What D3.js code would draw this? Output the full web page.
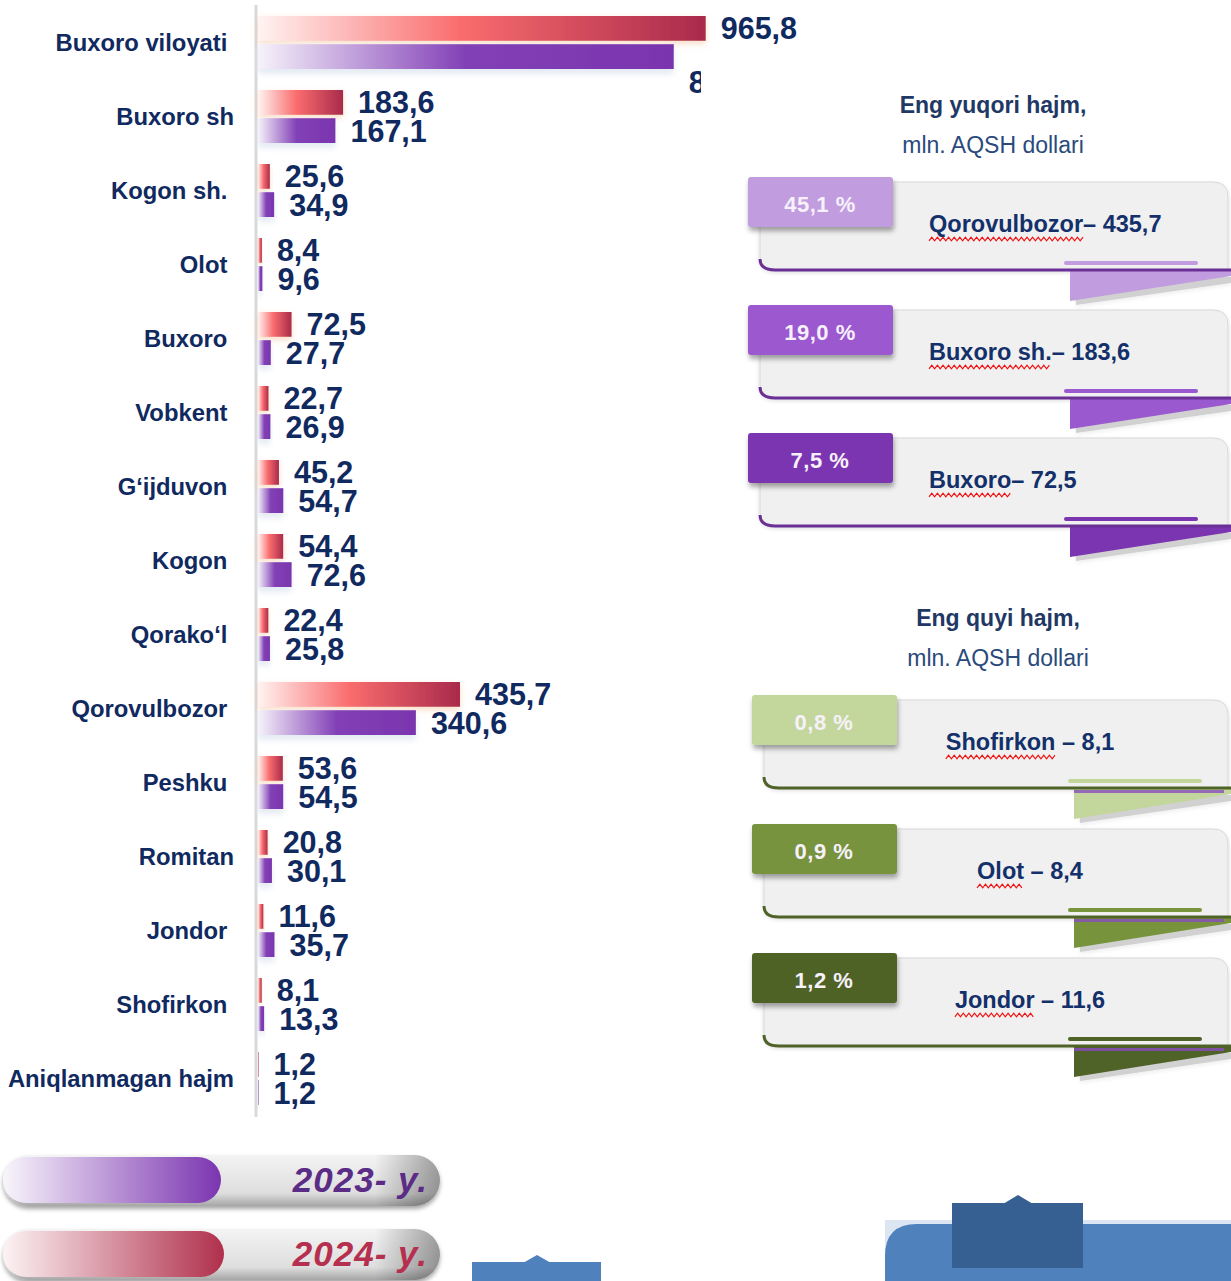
<!DOCTYPE html>
<html>
<head>
<meta charset="utf-8">
<script src="https://cdn.jsdelivr.net/npm/d3@7"></script>
<style>
  body { margin: 0; background: #fff; }
  svg { display: block; }
  text { font-family: "Liberation Sans", Arial, sans-serif; }
</style>
</head>
<body>
<div id="chart"></div>
<script>
// ---- data ----
const categories = ["Buxoro viloyati ", "Buxoro sh", "Kogon sh. ", "Olot ", "Buxoro ", "Vobkent ",
  "G‘ijduvon ", "Kogon ", "Qorako‘l ", "Qorovulbozor ", "Peshku ", "Romitan", "Jondor ",
  "Shofirkon ", "Aniqlanmagan hajm"];
const v2024 = [965.8, 183.6, 25.6, 8.4, 72.5, 22.7, 45.2, 54.4, 22.4, 435.7, 53.6, 20.8, 11.6, 8.1, 1.2];
const v2023 = [896.9, 167.1, 34.9, 9.6, 27.7, 26.9, 54.7, 72.6, 25.8, 340.6, 54.5, 30.1, 35.7, 13.3, 1.2];
const years = ["2024", "2023"];
const legendLabels = ["2023- y.", "2024- y."];

const topTitle = ["Eng yuqori hajm,", "mln. AQSH dollari"];
const topNames = ["Qorovulbozor", "Buxoro sh.", "Buxoro"];
const topValues = [435.7, 183.6, 72.5];
const topShares = [45.1, 19.0, 7.5];

const lowTitle = ["Eng quyi hajm,", "mln. AQSH dollari"];
const lowNames = ["Shofirkon", "Olot", "Jondor"];
const lowValues = [8.1, 8.4, 11.6];
const lowShares = [0.8, 0.9, 1.2];

// ---- setup ----
const width = 1231, height = 1281;
const navy = "#10295f";
const fmt = v => d3.format(".1f")(v).replace(".", ",");

const svg = d3.select("#chart").append("svg")
  .attr("width", width)
  .attr("height", height);
const defs = svg.append("defs");

function hGrad(id, stops) {
  const g = defs.append("linearGradient").attr("id", id)
    .attr("x1", 0).attr("x2", 1).attr("y1", 0).attr("y2", 0);
  stops.forEach(s => g.append("stop").attr("offset", s[0]).attr("stop-color", s[1])
    .attr("stop-opacity", s[2] == null ? 1 : s[2]));
}
function vGrad(id, stops) {
  const g = defs.append("linearGradient").attr("id", id)
    .attr("x1", 0).attr("x2", 0).attr("y1", 0).attr("y2", 1);
  stops.forEach(s => g.append("stop").attr("offset", s[0]).attr("stop-color", s[1]));
}
function shadow(id, dx, dy, sd, color, op) {
  defs.append("filter").attr("id", id)
    .attr("x", "-20%").attr("y", "-40%").attr("width", "140%").attr("height", "190%")
    .append("feDropShadow")
    .attr("dx", dx).attr("dy", dy).attr("stdDeviation", sd)
    .attr("flood-color", color).attr("flood-opacity", op);
}

hGrad("g2024", [[0, "#fff3f1"], [0.45, "#fa6d6e"], [1, "#a92a4b"]]);
hGrad("g2023", [[0, "#f6f2fa"], [0.5, "#8240b6"], [1, "#7a35ae"]]);
hGrad("leg2023", [[0, "#f8f5fb"], [1, "#7b35b0"]]);
hGrad("leg2024", [[0, "#fcf3f4"], [1, "#b0304c"]]);
vGrad("pill", [[0, "#f4f4f4"], [0.25, "#ececec"], [0.75, "#dedede"], [1, "#a6a6a6"]]);
hGrad("pillEnd", [[0.85, "#000", 0], [1, "#000", 0.35]]);
shadow("shRed", 0, 3, 3, "#f7c19a", 0.55);
shadow("shPur", 0, 5, 3, "#d9e2ef", 0.7);
shadow("shTab", 1, 4, 2.5, "#000", 0.35);
shadow("shBody", 0, 2, 2, "#000", 0.15);
shadow("shPill", 0, 3, 2, "#000", 0.35);

const colors = { "2024": "url(#g2024)", "2023": "url(#g2023)" };
const filters = { "2024": "url(#shRed)", "2023": "url(#shPur)" };

// ---- bar chart ----
const x = d3.scaleLinear().domain([0, 1000]).range([258, 258 + 463.6]);
const y = d3.scaleBand().domain(categories).range([5, 5 + 74 * categories.length]);
const ySub = d3.scaleBand().domain(years).range([11, 64]).paddingInner(0.12);

const rows = categories.map((c, i) => ({ c, vals: { "2024": v2024[i], "2023": v2023[i] } }));
const items = rows.flatMap(r => years.map(k => ({ c: r.c, k, v: r.vals[k] })));

// axis line
svg.append("line")
  .attr("x1", 256).attr("x2", 256)
  .attr("y1", y.range()[0]).attr("y2", 1117)
  .attr("stroke", "#d9d9d9").attr("stroke-width", 3);

// category labels
svg.append("g").selectAll("text")
  .data(rows).join("text")
  .attr("x", 234)
  .attr("y", d => y(d.c) + y.bandwidth() / 2)
  .attr("text-anchor", "end")
  .attr("dominant-baseline", "central")
  .attr("xml:space", "preserve")
  .style("white-space", "pre")
  .attr("font-size", 23.8).attr("font-weight", "bold")
  .attr("fill", navy)
  .text(d => d.c);

svg.append("g").selectAll("rect")
  .data(items).join("rect")
  .attr("x", x(0))
  .attr("y", d => y(d.c) + ySub(d.k))
  .attr("width", d => x(d.v) - x(0))
  .attr("height", ySub.bandwidth())
  .attr("fill", d => colors[d.k])
  .attr("filter", d => filters[d.k]);

// the side panel covers everything right of 701 below y 62
const panel = { x: 701, y: 62 };
const clip = defs.append("clipPath").attr("id", "plotClip");
clip.append("rect").attr("x", 0).attr("y", 0).attr("width", width).attr("height", panel.y);
clip.append("rect").attr("x", 0).attr("y", panel.y).attr("width", panel.x).attr("height", height);

svg.append("g").attr("clip-path", "url(#plotClip)")
  .selectAll("text")
  .data(items).join("text")
  .attr("x", d => x(d.v) + 15)
  .attr("y", d => y(d.c) + ySub(d.k) + ySub.bandwidth() / 2)
  .attr("dominant-baseline", "central")
  .attr("font-size", 30.5).attr("font-weight", "bold")
  .attr("fill", navy)
  .text(d => fmt(d.v))
  .each(function (d) {
    // a label running into the side panel drops below its bar (and is cut there)
    const b = this.getBBox();
    if (b.x + b.width > panel.x && b.y + b.height > panel.y) {
      d3.select(this).attr("y", y(d.c) + ySub(d.k) + ySub.bandwidth() / 2 + 25);
    }
  });

// ---- right side cards ----
function titles(lines, cx, y0) {
  svg.append("text").attr("x", cx).attr("y", y0).attr("text-anchor", "middle")
    .attr("font-size", 23).attr("font-weight", "bold").attr("fill", "#1f3864")
    .text(lines[0]);
  svg.append("text").attr("x", cx).attr("y", y0 + 40).attr("text-anchor", "middle")
    .attr("font-size", 23).attr("fill", "#2b4a7c")
    .text(lines[1]);
}

function card(T, L, share, name, sep, value, tabColor, lineColor, tx, anchor, strip) {
  const g = svg.append("g");
  g.append("path")
    .attr("d", `M${L + 12},${T + 5} H1213 Q1228,${T + 5} 1228,${T + 20} V${T + 93} H${L + 27} Q${L + 12},${T + 93} ${L + 12},${T + 80} Z`)
    .attr("fill", "#f0f0f0").attr("stroke", "#d8d8d8").attr("filter", "url(#shBody)");
  // folded ribbon end
  g.append("polygon")
    .attr("points", `${L + 326},${T + 100} 1231,${T + 100} 1231,${T + 106} ${L + 328},${T + 128}`)
    .attr("fill", "#9a9a9a").attr("opacity", 0.45).attr("filter", "url(#shBody)");
  g.append("polygon")
    .attr("points", `${L + 322},${T + 94} 1231,${T + 94} 1231,${T + 99} ${L + 322},${T + 124}`)
    .attr("fill", tabColor);
  if (strip) {
    g.append("rect").attr("x", L + 322).attr("y", T + 95).attr("width", 150).attr("height", 3)
      .attr("fill", strip).attr("opacity", 0.8);
  }
  g.append("path")
    .attr("d", `M${L + 12},${T + 82} Q${L + 12},${T + 93} ${L + 27},${T + 93} H1231`)
    .attr("fill", "none").attr("stroke", lineColor).attr("stroke-width", 3);
  g.append("line")
    .attr("x1", L + 318).attr("x2", L + 448).attr("y1", T + 86).attr("y2", T + 86)
    .attr("stroke", tabColor).attr("stroke-width", 4).attr("stroke-linecap", "round");
  g.append("rect").attr("x", L).attr("y", T).attr("width", 145).attr("height", 50).attr("rx", 3)
    .attr("fill", tabColor).attr("filter", "url(#shTab)");
  g.append("text").attr("x", L + 72).attr("y", T + 27)
    .attr("text-anchor", "middle").attr("dominant-baseline", "central")
    .attr("font-size", 22).attr("font-weight", "bold").attr("letter-spacing", 0.5)
    .attr("fill", "#f6f1fa")
    .text(fmt(share) + " %");
  const t = g.append("text").attr("x", tx).attr("y", T + 47)
    .attr("text-anchor", anchor).attr("dominant-baseline", "central")
    .attr("font-size", 23.5).attr("font-weight", "bold").attr("fill", "#13306a")
    .text(name + sep + fmt(value));
  // spell-check squiggle under the place name
  const node = t.node();
  const sx = node.getStartPositionOfChar(0).x;
  const ex = node.getEndPositionOfChar(name.length - 1).x;
  const pts = [];
  for (let xx = sx, k = 0; xx <= ex; xx += 2.8, k++) pts.push([xx, T + 62 + (k % 2 ? -1.8 : 1.8)]);
  g.append("path").attr("d", d3.line()(pts))
    .attr("fill", "none").attr("stroke", "#f01010").attr("stroke-width", 1.2);
}

titles(topTitle, 993, 113);
const topTabColors = ["#c19cdf", "#9b59cf", "#7b35b0"];
const topTops = d3.range(3).map(i => 177 + i * 128);
topNames.forEach((n, i) =>
  card(topTops[i], 748, topShares[i], n, "– ", topValues[i], topTabColors[i], "#6a3096", 929, "start", null));

titles(lowTitle, 998, 626);
const lowTabColors = ["#c3d69b", "#77933c", "#4f6228"];
const lowTops = d3.range(3).map(i => 695 + i * 129);
lowNames.forEach((n, i) =>
  card(lowTops[i], 752, lowShares[i], n, " – ", lowValues[i], lowTabColors[i], "#4f6228", 1030, "middle", "#8a4cc0"));

// ---- legend ----
const legFills = ["url(#leg2023)", "url(#leg2024)"];
const legText = ["#5b2c86", "#b4304e"];
const legTops = [1155, 1229];
legendLabels.forEach((lab, i) => {
  const g = svg.append("g");
  const T = legTops[i];
  g.append("rect").attr("x", 3).attr("y", T).attr("width", 437).attr("height", 51).attr("rx", 25.5)
    .attr("fill", "url(#pill)").attr("filter", "url(#shPill)");
  g.append("rect").attr("x", 3).attr("y", T).attr("width", 437).attr("height", 51).attr("rx", 25.5)
    .attr("fill", "url(#pillEnd)");
  g.append("rect").attr("x", 3).attr("y", T + 2).attr("width", 218 + i * 3).attr("height", 46).attr("rx", 23)
    .attr("fill", legFills[i]);
  g.append("text").attr("x", 428).attr("y", T + 24)
    .attr("text-anchor", "end").attr("dominant-baseline", "central")
    .attr("font-size", 35).attr("font-weight", "bold").attr("font-style", "italic")
    .attr("letter-spacing", 1)
    .attr("fill", legText[i])
    .text(lab);
});

// ---- slide decorations at the bottom ----
svg.append("rect").attr("x", 885).attr("y", 1220).attr("width", 346).attr("height", 61).attr("fill", "#dce6f2");
svg.append("path").attr("d", "M885,1281 V1256 Q885,1224 917,1224 H1231 V1281 Z").attr("fill", "#4f81bd");
svg.append("rect").attr("x", 952).attr("y", 1203).attr("width", 131).attr("height", 65).attr("fill", "#366092");
svg.append("polygon").attr("points", "1003,1204 1018,1195 1033,1204").attr("fill", "#366092");
svg.append("rect").attr("x", 472).attr("y", 1262).attr("width", 129).attr("height", 19).attr("fill", "#4f81bd");
svg.append("polygon").attr("points", "523,1263 537,1255 551,1263").attr("fill", "#4f81bd");
</script>
</body>
</html>
